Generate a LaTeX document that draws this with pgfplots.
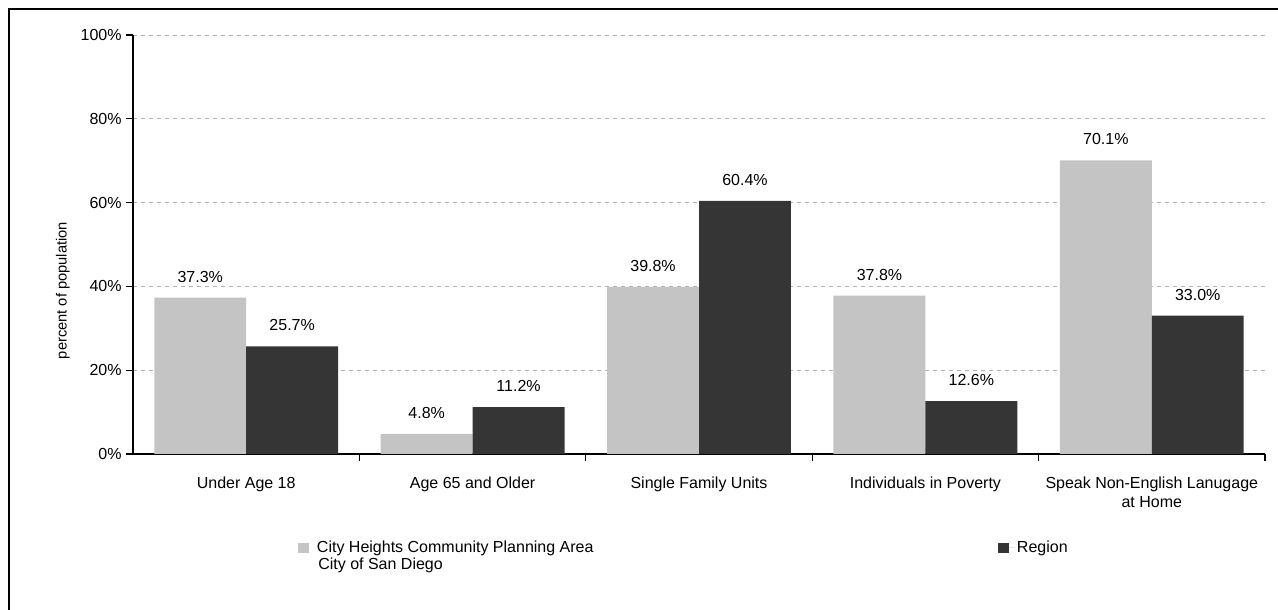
\documentclass[border=0pt]{standalone}
\usepackage{pgfplots}
\pgfplotsset{compat=1.18}
\usepackage{fontspec}
\setmainfont{Liberation Sans}
\definecolor{lightbar}{HTML}{C4C4C4}
\definecolor{darkbar}{HTML}{353535}
\begin{document}
\begin{tikzpicture}
\useasboundingbox (0,0) rectangle (958.5pt,457.5pt);
\draw[line width=1.5pt] (6.75pt,0) -- (6.75pt,450.75pt) -- (958.5pt,450.75pt);
\begin{axis}[
  at={(99.75pt,117pt)}, anchor=south west,
  scale only axis, width=849pt, height=314.25pt,
  xmin=-0.5, xmax=4.5, ymin=0, ymax=100,
  axis lines*=left,
  axis line style={line width=1pt, black},
  ybar=0pt, bar width=0.406,
  xtick={0,1,2,3,4},
  xticklabels={Under Age 18, Age 65 and Older, Single Family Units, Individuals in Poverty, {Speak Non-English Lanugage\\at Home}},
  xticklabel style={align=center, yshift=-9pt},
  minor xtick={0.5,1.5,2.5,3.5,4.5},
  major x tick style={draw=none},
  minor x tick style={black, line width=0.8pt},
  minor tick length=5pt,
  major tick length=5pt,
  tick align=outside,
  ytick={0,20,40,60,80,100},
  yticklabel={\pgfmathprintnumber{\tick}\%},
  y tick style={black, line width=0.8pt},
  ymajorgrids,
  grid style={gray!60, dash pattern=on 3pt off 3pt, line width=0.5pt},
  /pgf/number format/assume math mode=true,
  tick label style={font=\fontsize{12}{14}\selectfont},
  ylabel={percent of population},
  ylabel style={at={(axis description cs:-0.062,0.39)}, anchor=center, font=\fontsize{11}{12}\selectfont},
  nodes near coords={\pgfmathprintnumber[fixed,fixed zerofill,precision=1]{\pgfplotspointmeta}\%},
  nodes near coords style={font=\fontsize{12}{14}\selectfont, black, yshift=8pt},
  legend style={at={(0.1458,-0.2243)}, anchor=west, draw=none, inner sep=0pt,
    legend columns=2, font=\fontsize{12}{14}\selectfont},
  legend image code/.code={\fill[#1] (0pt,-4pt) rectangle (8pt,4pt); \path (0pt,0pt) -- (12pt,0pt);},
  clip=false,
]
\addplot[fill=lightbar, draw=none] coordinates {(0,37.3) (1,4.8) (2,39.8) (3,37.8) (4,70.1)};
\addlegendentry{\makebox[509pt][l]{City Heights Community Planning Area}}
\addplot[fill=darkbar, draw=none] coordinates {(0,25.7) (1,11.2) (2,60.4) (3,12.6) (4,33.0)};
\addlegendentry{Region}
\end{axis}
\node[anchor=west, font=\fontsize{12}{14}\selectfont, inner sep=0pt] at (238.5pt,33.5pt) {City of San Diego};
\end{tikzpicture}
\end{document}
